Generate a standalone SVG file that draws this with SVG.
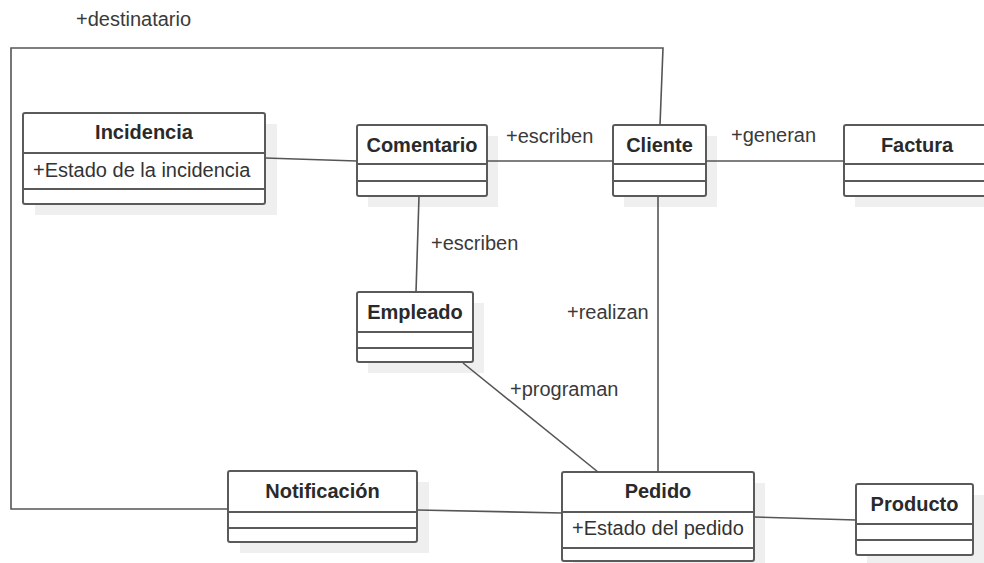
<svg xmlns="http://www.w3.org/2000/svg" width="984" height="563" viewBox="0 0 984 563">
<style>
.shadow{fill:#efefef;stroke:none}
.box{fill:#ffffff;stroke:#5a5a5a;stroke-width:2}
.sep{stroke:#5a5a5a;stroke-width:2}
.title{font-family:"Liberation Sans",Arial,sans-serif;font-size:20px;font-weight:bold;fill:#2a2a2a;text-anchor:middle}
.attr{font-family:"Liberation Sans",Arial,sans-serif;font-size:20px;fill:#333333}
.lbl{font-family:"Liberation Sans",Arial,sans-serif;font-size:20px;fill:#3a3a3a}
.conn{fill:none;stroke:#555555;stroke-width:1.6}
</style>
<rect width="984" height="563" fill="#ffffff"/>
<g id="Incidencia">
<rect class="shadow" x="35" y="124" width="242" height="91"/>
<rect class="box" x="23" y="113" width="242" height="91" rx="2"/>
<line class="sep" x1="23" y1="153" x2="265" y2="153"/>
<line class="sep" x1="23" y1="189" x2="265" y2="189"/>
<text class="title" x="144" y="139">Incidencia</text>
<text class="attr" x="33" y="177">+Estado de la incidencia</text>
</g>
<g id="Comentario">
<rect class="shadow" x="368" y="136" width="130" height="71"/>
<rect class="box" x="357" y="125" width="130" height="71" rx="2"/>
<line class="sep" x1="357" y1="164" x2="487" y2="164"/>
<line class="sep" x1="357" y1="181" x2="487" y2="181"/>
<text class="title" x="422" y="152">Comentario</text>
</g>
<g id="Cliente">
<rect class="shadow" x="624" y="136" width="93" height="71"/>
<rect class="box" x="613" y="125" width="93" height="71" rx="2"/>
<line class="sep" x1="613" y1="164" x2="706" y2="164"/>
<line class="sep" x1="613" y1="181" x2="706" y2="181"/>
<text class="title" x="659.5" y="152">Cliente</text>
</g>
<g id="Factura">
<rect class="shadow" x="855" y="136" width="146" height="71"/>
<rect class="box" x="844" y="125" width="146" height="71" rx="2"/>
<line class="sep" x1="844" y1="164" x2="990" y2="164"/>
<line class="sep" x1="844" y1="181" x2="990" y2="181"/>
<text class="title" x="917" y="152">Factura</text>
</g>
<g id="Empleado">
<rect class="shadow" x="368" y="303" width="116" height="70"/>
<rect class="box" x="357" y="292" width="116" height="70" rx="2"/>
<line class="sep" x1="357" y1="332" x2="473" y2="332"/>
<line class="sep" x1="357" y1="348" x2="473" y2="348"/>
<text class="title" x="415" y="319">Empleado</text>
</g>
<g id="Notificacion">
<rect class="shadow" x="240" y="482" width="189" height="71"/>
<rect class="box" x="228" y="471" width="189" height="71" rx="2"/>
<line class="sep" x1="228" y1="512" x2="417" y2="512"/>
<line class="sep" x1="228" y1="528" x2="417" y2="528"/>
<text class="title" x="322.5" y="498">Notificación</text>
</g>
<g id="Pedido">
<rect class="shadow" x="573" y="483" width="192" height="89"/>
<rect class="box" x="562" y="472" width="192" height="89" rx="2"/>
<line class="sep" x1="562" y1="512" x2="754" y2="512"/>
<line class="sep" x1="562" y1="548" x2="754" y2="548"/>
<text class="title" x="658" y="498">Pedido</text>
<text class="attr" x="572" y="535">+Estado del pedido</text>
</g>
<g id="Producto">
<rect class="shadow" x="867" y="495" width="117" height="71"/>
<rect class="box" x="856" y="484" width="117" height="71" rx="2"/>
<line class="sep" x1="856" y1="524" x2="973" y2="524"/>
<line class="sep" x1="856" y1="540" x2="973" y2="540"/>
<text class="title" x="914.5" y="511">Producto</text>
</g>
<g id="connectors">
<polyline class="conn" points="228,509 11,509 11,48 663,48 660,125"/>
<line class="conn" x1="265" y1="158" x2="357" y2="161"/>
<line class="conn" x1="487" y1="161" x2="613" y2="161"/>
<line class="conn" x1="706" y1="161" x2="844" y2="161"/>
<line class="conn" x1="419" y1="196" x2="416" y2="292"/>
<line class="conn" x1="658" y1="196" x2="658" y2="472"/>
<line class="conn" x1="463" y1="363" x2="598" y2="472"/>
<line class="conn" x1="417" y1="510" x2="562" y2="513"/>
<line class="conn" x1="754" y1="517" x2="856" y2="520"/>
<text class="lbl" x="76" y="26">+destinatario</text>
<text class="lbl" x="506" y="143">+escriben</text>
<text class="lbl" x="731" y="142">+generan</text>
<text class="lbl" x="431" y="250">+escriben</text>
<text class="lbl" x="567" y="319">+realizan</text>
<text class="lbl" x="510" y="396">+programan</text>
</g>
</svg>
